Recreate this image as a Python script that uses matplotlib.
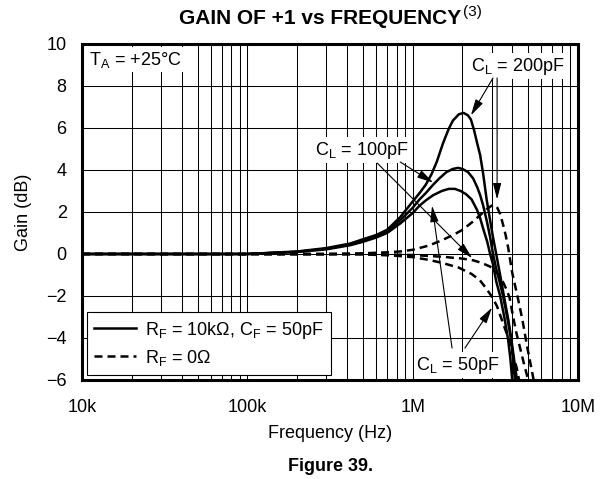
import matplotlib
matplotlib.use("Agg")
import matplotlib.pyplot as plt
import numpy as np
from matplotlib.ticker import LogLocator, FixedLocator, NullFormatter

plt.rcParams['font.family'] = ['Liberation Sans', 'DejaVu Sans']
plt.rcParams['mathtext.default'] = 'regular'
plt.rcParams['axes.unicode_minus'] = True

# frequency in MHz, gain in dB
f_sol_200 = [0.01, 0.1, 0.2, 0.3, 0.42, 0.5, 0.6, 0.7, 0.84, 1.0, 1.1, 1.2, 1.3, 1.4, 1.53,
             1.65, 1.75, 1.9, 2.03, 2.16, 2.25, 2.35, 2.45, 2.56, 2.67, 2.8, 2.94, 3.06,
             3.2, 3.38, 3.6, 3.8, 3.94, 4.1, 4.22, 4.35]
g_sol_200 = [0, 0, 0.12, 0.28, 0.5, 0.7, 0.9, 1.15, 1.75, 2.5, 2.9, 3.3, 3.8, 4.4, 5.3,
             5.95, 6.35, 6.65, 6.72, 6.6, 6.4, 5.9, 5.3, 4.7, 3.8, 2.6, 1.6, 0.8,
             0.0, -1.0, -2.2, -3.2, -4.0, -5.0, -5.7, -6.5]

f_sol_100 = [0.01, 0.1, 0.2, 0.3, 0.42, 0.5, 0.6, 0.7, 0.84, 1.0, 1.1, 1.2, 1.33, 1.45, 1.6,
             1.75, 1.88, 2.0, 2.16, 2.32, 2.45, 2.56, 2.67, 2.82, 2.94, 3.06, 3.2, 3.35,
             3.52, 3.75, 3.94, 4.05, 4.18]
g_sol_100 = [0, 0, 0.1, 0.25, 0.45, 0.62, 0.82, 1.05, 1.6, 2.2, 2.6, 2.9, 3.3, 3.6, 3.9,
             4.05, 4.1, 4.05, 3.9, 3.6, 3.2, 2.8, 2.3, 1.5, 0.8, 0.0, -0.7, -1.3,
             -2.0, -3.1, -4.1, -5.0, -6.3]

f_sol_50 = [0.01, 0.1, 0.2, 0.3, 0.42, 0.5, 0.6, 0.7, 0.84, 1.0, 1.1, 1.2, 1.33, 1.5, 1.65,
            1.8, 1.95, 2.1, 2.27, 2.45, 2.56, 2.67, 2.82, 2.94, 3.06, 3.2, 3.38, 3.6,
            3.78, 3.9, 4.02]
g_sol_50 = [0, 0, 0.1, 0.22, 0.42, 0.58, 0.78, 1.0, 1.45, 1.95, 2.3, 2.55, 2.8, 3.0, 3.1,
            3.1, 3.0, 2.85, 2.6, 2.1, 1.7, 1.2, 0.6, 0.0, -0.5, -1.3, -2.0, -3.1,
            -4.1, -5.0, -6.2]

f_dash_200 = [0.01, 0.3, 0.5, 0.7, 0.84, 1.0, 1.25, 1.5, 1.8, 2.0, 2.32, 2.6, 2.82, 3.0,
              3.12, 3.25, 3.38, 3.52, 3.65, 3.78, 4.0, 4.3, 4.6, 4.92, 5.3, 5.45]
g_dash_200 = [0, 0, 0.03, 0.08, 0.12, 0.2, 0.4, 0.65, 0.95, 1.15, 1.55, 1.9, 2.15, 2.3,
              2.35, 2.2, 1.9, 1.4, 0.9, 0.3, -0.9, -2.0, -3.1, -4.4, -5.7, -6.2]

f_dash_100 = [0.01, 0.5, 1.0, 1.5, 2.0, 2.32, 2.6, 2.94, 3.24, 3.5, 3.7, 3.86, 4.05, 4.25,
              4.47, 4.7, 4.92, 5.05]
g_dash_100 = [0, 0, -0.05, -0.13, -0.22, -0.3, -0.42, -0.6, -0.9, -1.3, -1.7, -2.1, -3.0,
              -3.8, -4.5, -5.2, -5.8, -6.2]

f_dash_50 = [0.01, 0.5, 0.75, 1.0, 1.25, 1.5, 1.9, 2.27, 2.55, 2.82, 3.05, 3.24, 3.52, 3.75,
             3.94, 4.1, 4.25, 4.45]
g_dash_50 = [0, -0.02, -0.07, -0.15, -0.28, -0.42, -0.65, -0.95, -1.25, -1.7, -2.1, -2.5,
             -3.3, -3.9, -4.5, -5.0, -5.4, -6.2]

x_ticks = [1e4, 1e5, 1e6, 1e7]
x_labels = ['10k', '100k', '1M', '10M']
y_ticks = [-6, -4, -2, 0, 2, 4, 6, 8, 10]

fig = plt.figure(figsize=(6.08, 4.79), dpi=100)
ax = fig.add_axes([0.1349, 0.2067, 0.8158, 0.7015])

MHz = 1e6
lw = 1.8
dash = (0, (3.2, 2.0))
ax.plot(np.array(f_sol_200) * MHz, g_sol_200, color='black', lw=lw, zorder=3)
ax.plot(np.array(f_sol_100) * MHz, g_sol_100, color='black', lw=lw, zorder=3)
ax.plot(np.array(f_sol_50) * MHz, g_sol_50, color='black', lw=lw, zorder=3,
        label='R$_F$ = 10k\u03a9, C$_F$ = 50pF')
ax.plot(np.array(f_dash_200) * MHz, g_dash_200, color='black', lw=lw, ls=dash, zorder=3)
ax.plot(np.array(f_dash_100) * MHz, g_dash_100, color='black', lw=lw, ls=dash, zorder=3)
ax.plot(np.array(f_dash_50) * MHz, g_dash_50, color='black', lw=lw, ls=dash, zorder=3,
        label='R$_F$ = 0\u03a9')

ax.set_xscale('log')
ax.set_xlim(1e4, 1e7)
ax.set_ylim(-6, 10)
ax.xaxis.set_major_locator(FixedLocator(x_ticks))
ax.set_xticklabels(x_labels)
ax.xaxis.set_minor_locator(LogLocator(base=10, subs=[2, 3, 4, 5, 6, 7, 8, 9]))
ax.xaxis.set_minor_formatter(NullFormatter())
ax.set_yticks(y_ticks)
ax.grid(which='both', color='black', lw=0.75, zorder=1)
ax.tick_params(which='both', length=0, labelsize=13)
ax.tick_params(axis='x', pad=14)
ax.tick_params(axis='y', pad=11)
for s in ax.spines.values():
    s.set_linewidth(2.2)
    s.set_zorder(5)

ax.set_xlabel('Frequency (Hz)', fontsize=13, labelpad=6)
ax.set_ylabel('Gain (dB)', fontsize=13, labelpad=10)
fig.text(461 / 608, 0.962, 'GAIN OF +1 vs FREQUENCY', fontsize=15,
         fontweight='bold', ha='right', va='center')
fig.text(463 / 608, 0.974, '(3)', fontsize=11, ha='left', va='center')
fig.text(0.543, 0.027, 'Figure 39.', fontsize=13, fontweight='bold',
         ha='center', va='center')

box = dict(facecolor='white', edgecolor='none', pad=2)
ax.text(1.1e4, 9.25, 'T$_A$ = +25\u00b0C', fontsize=13, ha='left', va='center',
        bbox=box, zorder=4)

arrow = dict(arrowstyle='-|>,head_length=0.7,head_width=0.18', color='black',
             lw=0.8, mutation_scale=14, shrinkA=0, shrinkB=0)
lab_kw = dict(fontsize=13, ha='center', va='center', bbox=box, zorder=4)

ax.text(4.35e6, 8.95, 'C$_L$ = 200pF', **lab_kw)
ax.annotate('', xy=(2.25e6, 6.6), xytext=(3.06e6, 8.38), arrowprops=arrow, zorder=4)
ax.annotate('', xy=(3.24e6, 2.6), xytext=(3.24e6, 8.38), arrowprops=arrow, zorder=4)

ax.text(4.94e5, 4.95, 'C$_L$ = 100pF', **lab_kw)
ax.annotate('', xy=(1.33e6, 3.4), xytext=(8.4e5, 4.38), arrowprops=arrow, zorder=4)
ax.annotate('', xy=(2.29e6, -0.2), xytext=(6.1e5, 4.33), arrowprops=arrow, zorder=4)

ax.text(1.88e6, -5.29, 'C$_L$ = 50pF', **lab_kw)
ax.annotate('', xy=(1.31e6, 2.3), xytext=(1.73e6, -4.48), arrowprops=arrow, zorder=4)
ax.annotate('', xy=(3.02e6, -2.55), xytext=(2.07e6, -4.48), arrowprops=arrow, zorder=4)

leg = ax.legend(loc='lower left', bbox_to_anchor=(0.01, 0.015), fontsize=13,
                frameon=True, fancybox=False, framealpha=1, edgecolor='black',
                handlelength=2.3, borderpad=0.4, labelspacing=0.4,
                handletextpad=0.5, borderaxespad=0)
leg.get_frame().set_linewidth(0.8)
leg.set_zorder(6)

fig.savefig('out.png', dpi=100)
